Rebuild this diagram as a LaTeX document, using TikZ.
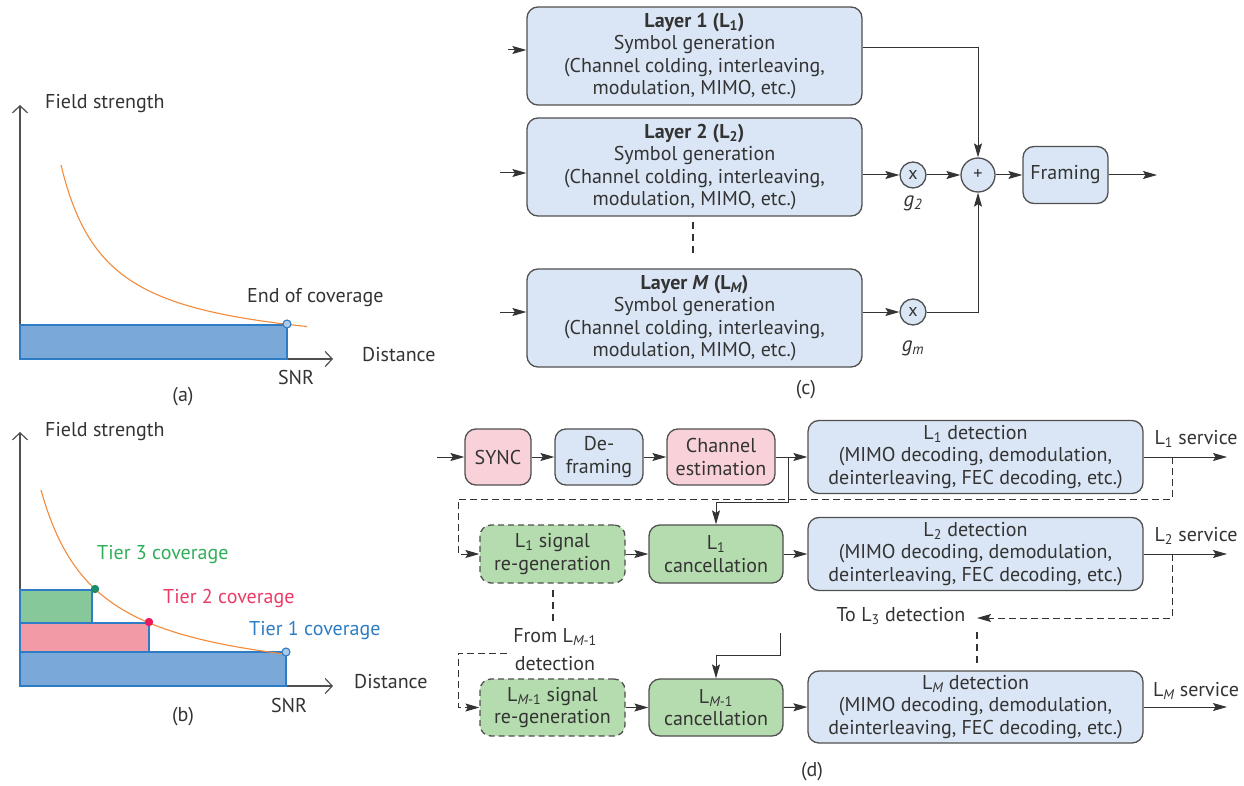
\documentclass[tikz,border=0pt]{standalone}
\usepackage{fontspec}
\setmainfont{PT Sans}
\usetikzlibrary{arrows.meta}
\definecolor{txt}{HTML}{333333}
\definecolor{edge}{HTML}{505050}
\definecolor{bfill}{HTML}{DAE6F5}
\definecolor{pfill}{HTML}{F9D2D9}
\definecolor{gfill}{HTML}{B5DCAE}
\definecolor{barblue}{HTML}{7AA8D9}
\definecolor{barpink}{HTML}{F29AA6}
\definecolor{bargreen}{HTML}{86C89A}
\definecolor{barline}{HTML}{2E7BC6}
\definecolor{curvec}{HTML}{F28A3A}
\definecolor{tgreen}{HTML}{2FAE5A}
\definecolor{tpink}{HTML}{EC3A66}
\definecolor{tblue}{HTML}{2C7DC3}
\definecolor{dotgreen}{HTML}{1B8C6A}
\definecolor{dotred}{HTML}{E81C5C}
\newcommand\lsub[1]{\textsubscript{#1}}
\tikzset{
  lbl/.style={font=\fontsize{20}{22}\selectfont, text=txt, inner sep=0pt},
  box/.style={draw=edge, line width=1.3pt, rounded corners=11pt, align=center, inner sep=0pt,
    font=\fontsize{20}{22.3}\selectfont, text=txt},
  bbox/.style={box, fill=bfill},
  pbox/.style={box, fill=pfill},
  gbox/.style={box, fill=gfill},
  gdbox/.style={box, fill=gfill, dash pattern=on 6pt off 4pt},
  circ/.style={draw=edge, line width=1.3pt, circle, fill=bfill, inner sep=0pt, text=txt,
    font=\fontsize{18}{20}\selectfont},
  tip/.style={-{Stealth[length=14pt,width=8pt,inset=2.5pt]}},
  arr/.style={draw=txt, line width=1pt, tip},
  dsh/.style={draw=txt, line width=1pt, dash pattern=on 7pt off 4pt},
  vdsh/.style={draw=txt, line width=2.2pt, dash pattern=on 7pt off 5pt},
  axis/.style={draw=edge, line width=1.2pt, -{Straight Barb[length=7pt,width=15pt]}},
  bar/.style={draw=barline, line width=1.2pt},
}
\begin{document}
\begin{tikzpicture}[x=1pt,y=-1pt]
\useasboundingbox (0,0) rectangle (1244,786);

% ---------------- (a)
\draw[axis] (20,359) -- (20,105);
\draw[axis] (20,359) -- (333,359);
\draw[bar, fill=barblue] (20,325) rectangle (287,359);
\draw[curvec, line width=1.1pt] plot[domain=61:307, samples=80] (\x, {356.7-8818/(\x-15)});
\fill[tblue!40, draw=barline, line width=1.1pt] (287,324) circle (4);
\node[lbl, anchor=west] (fsa) at (45,104) {Field strength};
\node[lbl, anchor=west] (eoc) at (247,298) {End of coverage};
\node[lbl, anchor=west] (dsa) at (362,355) {Distance};
\node[lbl] (snra) at (296,377) {SNR};
\node[lbl] (capa) at (183,397) {(a)};

% ---------------- (b)
\draw[axis] (20,686) -- (20,432);
\draw[axis] (20,686) -- (333,686);
\draw[bar, fill=barblue] (20,652) rectangle (286,686);
\draw[bar, fill=barpink] (20,623) rectangle (149,652);
\draw[bar, fill=bargreen] (20,590) rectangle (92,623);
\draw[curvec, line width=1.1pt] plot[domain=41:286, samples=80] (\x, {691.7-11294/(\x+15)});
\fill[dotgreen] (95,589) circle (4.2);
\fill[dotred] (149,622) circle (4.2);
\fill[tblue!40, draw=barline, line width=1.1pt] (286,652) circle (4);
\node[lbl, anchor=west] (fsb) at (45,432) {Field strength};
\node[lbl, anchor=west, text=tgreen] (t3) at (97,555) {Tier 3 coverage};
\node[lbl, anchor=west, text=tpink] (t2) at (163,598) {Tier 2 coverage};
\node[lbl, anchor=west, text=tblue] (t1) at (249,630) {Tier 1 coverage};
\node[lbl, anchor=west] (dsb) at (354,682) {Distance};
\node[lbl] (snrb) at (289,705) {SNR};
\node[lbl] (capb) at (183,717) {(b)};

% ---------------- (c)
\node[bbox, minimum width=335pt, minimum height=98pt] (L1) at (694.5,56)
  {\textbf{Layer 1 (L\lsub{1})}\\Symbol generation\\(Channel colding, interleaving,\\modulation, MIMO, etc.)};
\node[bbox, minimum width=335pt, minimum height=98pt] (L2) at (694.5,167)
  {\textbf{Layer 2 (L\lsub{2})}\\Symbol generation\\(Channel colding, interleaving,\\modulation, MIMO, etc.)};
\node[bbox, minimum width=335pt, minimum height=98pt] (LM) at (694.5,318)
  {\textbf{Layer \textit{M} (L\lsub{\itshape M})}\\Symbol generation\\(Channel colding, interleaving,\\modulation, MIMO, etc.)};
\node[circ, minimum size=26pt] (x2) at (913,175) {x};
\node[circ, minimum size=34pt] (plus) at (978,175) {+};
\node[circ, minimum size=26pt] (xm) at (913,312) {x};
\node[bbox, minimum width=85pt, minimum height=57pt] (fr) at (1065.5,175) {Framing};
\coordinate (in1) at (508,50);
\coordinate (in2) at (500,173);
\coordinate (inM) at (500,312);
\coordinate (outc) at (1157,175);
\coordinate (vd1) at (693,222);
\coordinate (vd2) at (693,257);
\draw[arr] (in1) -- (in1 -| L1.west);
\draw[arr] (in2) -- (in2 -| L2.west);
\draw[arr] (inM) -- (inM -| LM.west);
\draw[arr] ([yshift=8pt]L1.east) -| (plus.north);
\draw[arr] ([yshift=-8pt]L2.east) -- (x2.west);
\draw[arr] (x2.east) -- (plus.west);
\draw[arr] ([yshift=6pt]LM.east) -- (xm.west);
\draw[arr] (xm.east) -| (plus.south);
\draw[arr] (plus.east) -- (fr.west);
\draw[arr] (fr.east) -- (outc);
\draw[vdsh] (vd1) -- (vd2);
\node[lbl, font=\fontsize{21}{22}\selectfont\itshape] (g2) at (913,203) {g\lsub{2}};
\node[lbl, font=\fontsize{21}{22}\selectfont\itshape] (gm) at (913,348) {g\lsub{m}};
\node[lbl] (capc) at (806,390) {(c)};

% ---------------- (d)
\node[pbox, minimum width=66pt, minimum height=56pt] (sync) at (498,457) {SYNC};
\node[bbox, minimum width=88pt, minimum height=56pt] (defr) at (599,457) {De-\\framing};
\node[pbox, minimum width=108pt, minimum height=56pt] (chest) at (721,457) {Channel\\estimation};
\node[bbox, minimum width=335pt, minimum height=73pt] (det1) at (975.5,457)
  {L\lsub{1} detection\\(MIMO decoding, demodulation,\\deinterleaving, FEC decoding, etc.)};
\node[gdbox, minimum width=145pt, minimum height=58pt] (rg1) at (552.5,554) {L\lsub{1} signal\\re-generation};
\node[gbox, minimum width=134pt, minimum height=58pt] (can1) at (716,554) {L\lsub{1}\\cancellation};
\node[bbox, minimum width=335pt, minimum height=73pt] (det2) at (975.5,554)
  {L\lsub{2} detection\\(MIMO decoding, demodulation,\\deinterleaving, FEC decoding, etc.)};
\node[gdbox, minimum width=145pt, minimum height=57pt] (rgM) at (552.5,707.5) {L\lsub{\itshape M\upshape -1} signal\\re-generation};
\node[gbox, minimum width=134pt, minimum height=57pt] (canM) at (716,707.5) {L\lsub{\itshape M\upshape -1}\\cancellation};
\node[bbox, minimum width=335pt, minimum height=72pt] (detM) at (975.5,707)
  {L\lsub{\itshape M} detection\\(MIMO decoding, demodulation,\\deinterleaving, FEC decoding, etc.)};

\coordinate (ind) at (437,457);
\coordinate (br1) at (788,457);
\coordinate (k1) at (788,502);
\coordinate (s1) at (1172,457);
\coordinate (o1) at (1227,457);
\coordinate (c1) at (1172,499);
\coordinate (c2) at (458,499);
\coordinate (s2) at (1172,554);
\coordinate (o2) at (1227,554);
\coordinate (c3) at (1172,618);
\coordinate (c4) at (977,618);
\coordinate (oM) at (1227,707);
\coordinate (d1) at (507,653);
\coordinate (d2) at (458,653);
\coordinate (m1) at (780,633);
\coordinate (m2) at (780,655);
\coordinate (v1a) at (553,590);
\coordinate (v1b) at (553,624);
\coordinate (v2a) at (977,632);
\coordinate (v2b) at (977,665);

\draw[arr] (ind) -- (sync.west);
\draw[arr] (sync.east) -- (defr.west);
\draw[arr] (defr.east) -- (chest.west);
\draw[arr] (chest.east) -- (det1.west);
\draw[arr] (br1) -- (k1) -| (can1.north);
\draw[arr] (det1.east) -- (o1);
\draw[dsh, tip] (s1) -- (c1) -- (c2) |- (rg1.west);
\draw[arr] (rg1.east) -- (can1.west);
\draw[arr] (can1.east) -- (det2.west);
\draw[arr] (det2.east) -- (o2);
\draw[dsh, tip] (s2) -- (c3) -- (c4);
\draw[vdsh] (v1a) -- (v1b);
\draw[vdsh] (v2a) -- (v2b);
\draw[dsh, tip] (d1) -- (d2) |- (rgM.west);
\draw[arr] (m1) -- (m2) -| (canM.north);
\draw[arr] (rgM.east) -- (canM.west);
\draw[arr] (canM.east) -- (detM.west);
\draw[arr] (detM.east) -- (oM);

\node[lbl] (sv1) at (1196,439) {L\lsub{1} service};
\node[lbl] (sv2) at (1196,536) {L\lsub{2} service};
\node[lbl] (svM) at (1196,691) {L\lsub{\itshape M} service};
\node[lbl] (tol3) at (901,616) {To L\lsub{3} detection};
\node[lbl, align=center, font=\fontsize{20}{28}\selectfont] (froml) at (555,650) {From L\lsub{\itshape M\upshape -1}\\detection};
\node[lbl] (capd) at (812,772) {(d)};
\end{tikzpicture}
\end{document}
